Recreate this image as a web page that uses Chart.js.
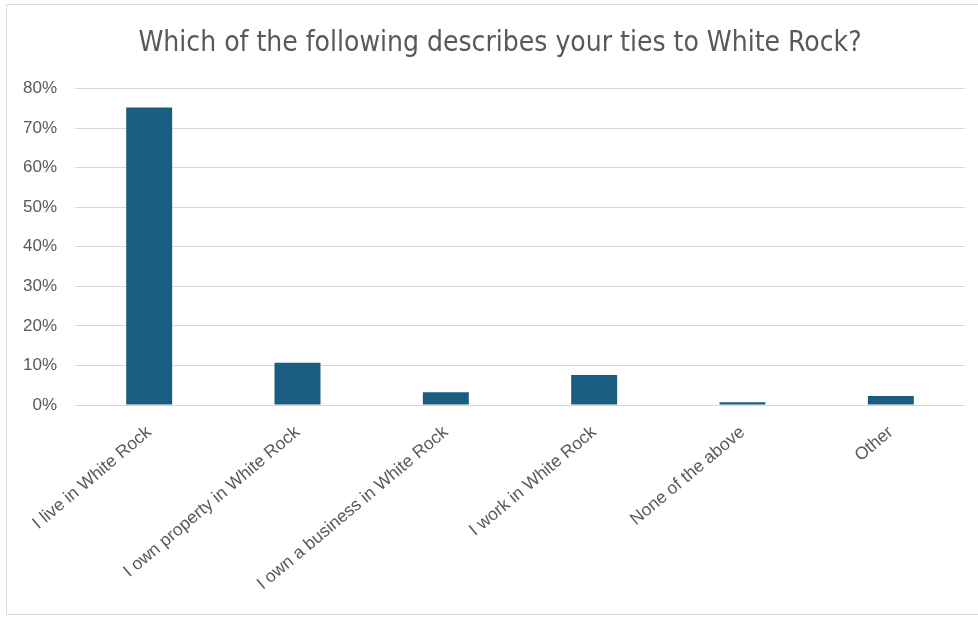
<!DOCTYPE html>
<html>
<head>
<meta charset="utf-8">
<script src="https://cdn.jsdelivr.net/npm/chart.js@4"></script>
<style>
  html, body { margin: 0; padding: 0; background: #fff; }
  #frame {
    position: absolute; left: 6px; top: 4px; width: 990px; height: 611px;
    border: 1px solid #d9d9d9; box-sizing: border-box;
  }
  #wrap { position: absolute; left: 0; top: 0; width: 978px; height: 618px; }
</style>
</head>
<body>
<div id="frame"></div>
<div id="wrap"><canvas id="tiesChart"></canvas></div>
<script>
var categories = [
    'I live in White Rock',
    'I own property in White Rock',
    'I own a business in White Rock',
    'I work in White Rock',
    'None of the above',
    'Other'
];
var shares = [75.2, 10.7, 3.2, 7.6, 0.7, 2.3];
var yTicks = [0, 10, 20, 30, 40, 50, 60, 70, 80];

// the title sits a little right of the canvas centre in the original
var shiftTitle = {
    id: 'shiftTitle',
    afterLayout: function (chart) {
        if (chart.titleBlock) { chart.titleBlock.left = 35; }
    },
};

var ctx = document.getElementById('tiesChart').getContext('2d');
var tiesChart = new Chart(ctx, {
    type: 'bar',
    data: {
        labels: categories,
        datasets: [{
            data: shares,
            backgroundColor: '#1a5d80',
            borderWidth: 0,
            categoryPercentage: 1,
            barPercentage: 0.31,
        }],
    },
    plugins: [shiftTitle],
    options: {
        responsive: true,
        maintainAspectRatio: false,
        animation: false,
        layout: { padding: { left: 0, right: 13, top: 0, bottom: 5 } },
        plugins: {
            legend: { display: false },
            tooltip: { enabled: false },
            title: {
                display: true,
                text: 'Which of the following describes your ties to White Rock?',
                color: '#595959',
                font: { family: "'Liberation Sans Narrow', 'DejaVu Sans Condensed', 'Liberation Sans'", size: 28, weight: 'normal' },
                padding: { top: 27, bottom: 28 },
            },
        },
        scales: {
            x: {
                grid: { display: false, drawTicks: false },
                border: { display: false },
                ticks: {
                    color: '#595959',
                    font: { family: "'Liberation Sans', Arial", size: 17.5 },
                    minRotation: 40,
                    maxRotation: 40,
                    padding: 17,
                },
                afterFit: function (s) { s.height = 208; },
            },
            y: {
                min: 0,
                max: 80,
                afterBuildTicks: function (s) {
                    s.ticks = yTicks.map(function (v) { return { value: v }; });
                },
                grid: { color: '#d9d9d9', lineWidth: 1, drawTicks: false },
                border: { display: false },
                ticks: {
                    color: '#595959',
                    font: { family: "'Liberation Sans', Arial", size: 17 },
                    padding: 18,
                    callback: function (v) { return v + '%'; },
                },
                afterFit: function (s) { s.width = 75; },
            },
        },
    },
});
</script>
</body>
</html>
